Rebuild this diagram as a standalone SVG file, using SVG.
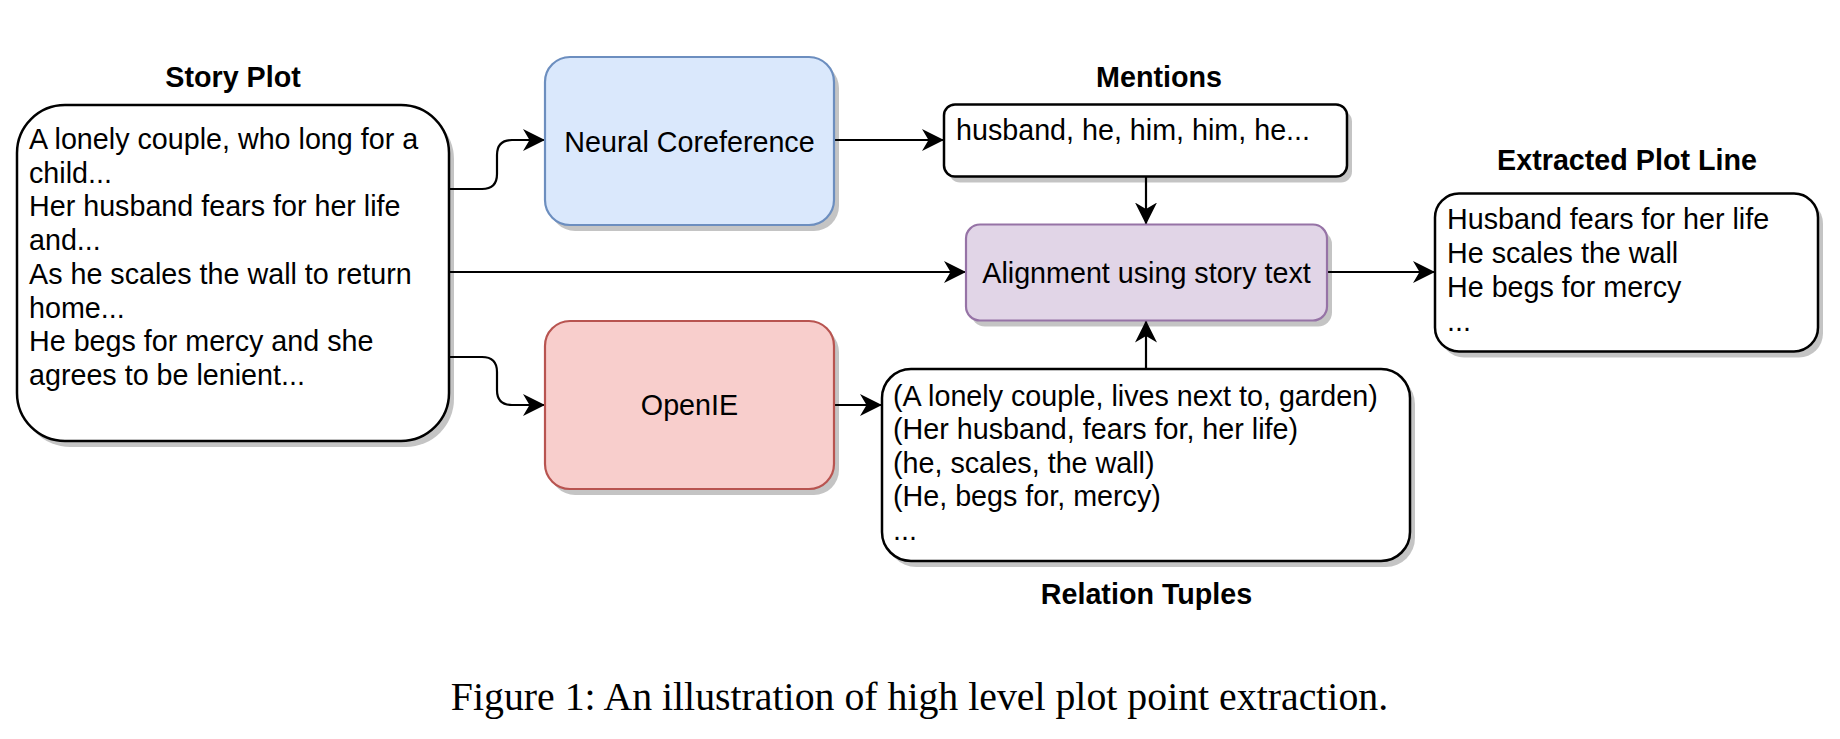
<svg xmlns="http://www.w3.org/2000/svg" width="1840" height="739" viewBox="0 0 1840 739">
<style>
  .t { font-family: "Liberation Sans", Arial, Helvetica, sans-serif; font-size: 28.7px; fill: #000; }
  .b { font-family: "Liberation Sans", Arial, Helvetica, sans-serif; font-size: 28.7px; font-weight: bold; fill: #000; }
  .c { text-anchor: middle; }
  .cap { font-family: "Liberation Serif", "Times New Roman", serif; font-size: 39.8px; fill: #000; text-anchor: middle; }
  .sh { fill: #000; fill-opacity: 0.23; stroke: none; }
  .wb { fill: #fff; stroke: #000; stroke-width: 2.5; }
  .blue { fill: #dae8fc; stroke: #6c8ebf; stroke-width: 2.2; }
  .red { fill: #f8cecc; stroke: #b85450; stroke-width: 2.2; }
  .purple { fill: #e1d5e7; stroke: #9673a6; stroke-width: 2.2; }
  .e { fill: none; stroke: #000; stroke-width: 2.2; marker-end: url(#arr); }
</style>
<defs>
  <marker id="arr" markerWidth="24" markerHeight="24" refX="22" refY="11" orient="auto" markerUnits="userSpaceOnUse">
    <path d="M0,0 L22,11 L0,22 L6.5,11 Z" fill="#000"/>
  </marker>
</defs>
<rect width="1840" height="739" fill="#fff"/>

<g id="connectors">
  <path class="e" d="M449,189 H482 Q497,189 497,174 V155 Q497,140 512,140 H545"/>
  <path class="e" d="M449,272 H966"/>
  <path class="e" d="M449,357 H482 Q497,357 497,372 V390 Q497,405 512,405 H545"/>
  <path class="e" d="M834,140 H944"/>
  <path class="e" d="M1146,177 V224.5"/>
  <path class="e" d="M1146,369 V320.5"/>
  <path class="e" d="M1327,272 H1435"/>
  <path class="e" d="M834,405 H882"/>
</g>

<g id="story-plot">
  <text class="b c" x="233" y="87">Story Plot</text>
  <rect class="sh" x="22" y="111" width="432" height="336" rx="48"/>
  <rect class="wb" x="17" y="105" width="432" height="336" rx="48"/>
  <text class="t" x="29" y="149">A lonely couple, who long for a</text>
  <text class="t" x="29" y="182.7">child...</text>
  <text class="t" x="29" y="216.4">Her husband fears for her life</text>
  <text class="t" x="29" y="250.1">and...</text>
  <text class="t" x="29" y="283.8">As he scales the wall to return</text>
  <text class="t" x="29" y="317.5">home...</text>
  <text class="t" x="29" y="351.2">He begs for mercy and she</text>
  <text class="t" x="29" y="384.9">agrees to be lenient...</text>
</g>

<g id="neural-coreference">
  <rect class="sh" x="550" y="63" width="289" height="168" rx="25"/>
  <rect class="blue" x="545" y="57" width="289" height="168" rx="25"/>
  <text class="t c" x="689.5" y="151.5">Neural Coreference</text>
</g>

<g id="openie">
  <rect class="sh" x="550" y="327" width="289" height="168" rx="25"/>
  <rect class="red" x="545" y="321" width="289" height="168" rx="25"/>
  <text class="t c" x="689.5" y="415">OpenIE</text>
</g>

<g id="mentions">
  <text class="b c" x="1159" y="87">Mentions</text>
  <rect class="sh" x="949" y="110.5" width="403" height="72" rx="11"/>
  <rect class="wb" x="944" y="104.5" width="403" height="72" rx="11"/>
  <text class="t" x="956" y="140">husband, he, him, him, he...</text>
</g>

<g id="alignment">
  <rect class="sh" x="971" y="230.5" width="361" height="96" rx="14"/>
  <rect class="purple" x="966" y="224.5" width="361" height="96" rx="14"/>
  <text class="t c" x="1146.5" y="282.5">Alignment using story text</text>
</g>

<g id="extracted-plot-line">
  <text class="b c" x="1627" y="170">Extracted Plot Line</text>
  <rect class="sh" x="1440" y="199.5" width="383" height="158" rx="24"/>
  <rect class="wb" x="1435" y="193.5" width="383" height="158" rx="24"/>
  <text class="t" x="1447" y="229">Husband fears for her life</text>
  <text class="t" x="1447" y="263.2">He scales the wall</text>
  <text class="t" x="1447" y="297.4">He begs for mercy</text>
  <text class="t" x="1447" y="331">...</text>
</g>

<g id="relation-tuples">
  <rect class="sh" x="887" y="375" width="528" height="192" rx="29"/>
  <rect class="wb" x="882" y="369" width="528" height="192" rx="29"/>
  <text class="t" x="893" y="405.5">(A lonely couple, lives next to, garden)</text>
  <text class="t" x="893" y="439.1">(Her husband, fears for, her life)</text>
  <text class="t" x="893" y="472.7">(he, scales, the wall)</text>
  <text class="t" x="893" y="506.3">(He, begs for, mercy)</text>
  <text class="t" x="893" y="539.9">...</text>
  <text class="b c" x="1146.5" y="604">Relation Tuples</text>
</g>

<g id="caption">
  <text class="cap" x="919.5" y="710">Figure 1: An illustration of high level plot point extraction.</text>
</g>
</svg>
